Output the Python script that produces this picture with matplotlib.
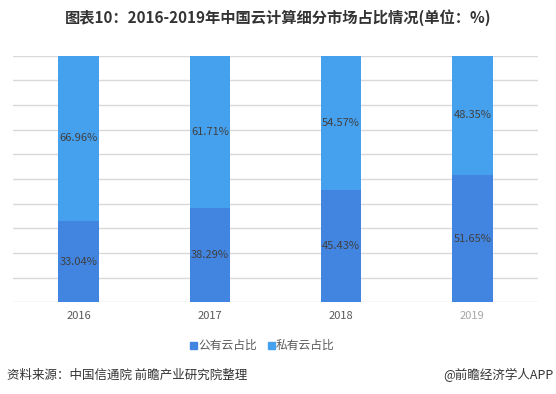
import matplotlib
matplotlib.use("Agg")
import matplotlib.pyplot as plt
from matplotlib.patches import Rectangle

plt.rcParams['font.family'] = ['Noto Sans CJK SC', 'DejaVu Sans']

years = ['2016', '2017', '2018', '2019']
public_share = [33.04, 38.29, 45.43, 51.65]
private_share = [66.96, 61.71, 54.57, 48.35]
series_names = ['公有云占比', '私有云占比']

c_pub = '#4285E1'
c_priv = '#45A0EE'

fig = plt.figure(figsize=(5.56, 3.94), dpi=100)
ax = fig.add_axes([13/556, 1-302.3/394, 525/556, 246.8/394])

x = list(range(len(years)))
w = 0.31
ax.bar(x, public_share, width=w, color=c_pub, zorder=2)
ax.bar(x, private_share, width=w, bottom=public_share, color=c_priv, zorder=2)

for i in x:
    ax.text(i, public_share[i] / 2, f'{public_share[i]:.2f}%', ha='center', va='center',
            fontsize=8, color='#404040', zorder=3)
    ax.text(i, public_share[i] + private_share[i] / 2, f'{private_share[i]:.2f}%', ha='center',
            va='center', fontsize=8, color='#404040', zorder=3)

ax.set_xlim(-0.5, len(years) - 0.5)
ax.set_ylim(0, 100)
ax.set_yticks(range(0, 101, 10))
ax.yaxis.grid(True, color='#d9d9d9', linewidth=1, zorder=0)
ax.set_yticklabels([])
ax.tick_params(axis='y', length=0)
ax.set_xticks(x)
ax.set_xticklabels(years, fontsize=8, color='#595959')
ax.get_xticklabels()[-1].set_color('#a6a6a6')
ax.tick_params(axis='x', length=0, pad=6)
for s in ax.spines.values():
    s.set_visible(False)

fig.text(0.5, 1 - 18/394, '图表10：2016-2019年中国云计算细分市场占比情况(单位：%)', ha='center', va='center',
         fontsize=11, fontweight='bold', color='#333333')

# legend
ly = 1 - 345/394
fig.patches.append(Rectangle((190/556, ly - 3.5/394), 7/556, 7/394, transform=fig.transFigure,
                             color=c_pub, figure=fig))
fig.text(198/556, ly, series_names[0], ha='left', va='center', fontsize=8.5, color='#595959')
fig.patches.append(Rectangle((268/556, ly - 3.5/394), 7/556, 7/394, transform=fig.transFigure,
                             color=c_priv, figure=fig))
fig.text(276/556, ly, series_names[1], ha='left', va='center', fontsize=8.5, color='#595959')

fig.text(7/556, 1 - 375/394, '资料来源：中国信通院 前瞻产业研究院整理', ha='left', va='center',
         fontsize=9, color='#333333')
fig.text(553/556, 1 - 375/394, '@前瞻经济学人APP', ha='right', va='center',
         fontsize=9, color='#333333')

fig.savefig('out.png', dpi=100)
